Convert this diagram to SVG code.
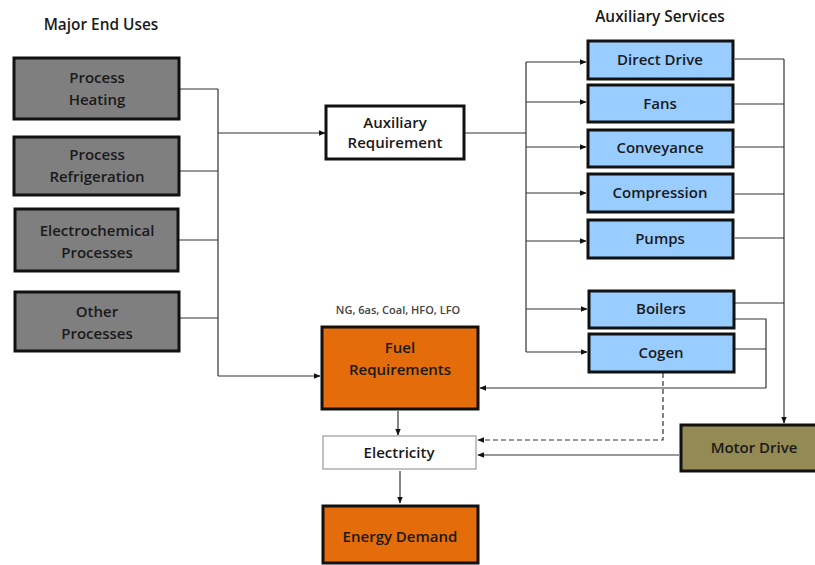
<svg xmlns="http://www.w3.org/2000/svg" width="815" height="565" viewBox="0 0 815 565">
  <style>
    .lbl { font-family: "Open Sans", "Liberation Sans", sans-serif; font-weight: 600; font-size: 15px; fill: #1a1a1a; text-anchor: middle; }
    .title { font-family: "Open Sans", "Liberation Sans", sans-serif; font-weight: 600; font-size: 15.4px; fill: #1a1a1a; text-anchor: middle; }
    .small { font-family: "Open Sans", "Liberation Sans", sans-serif; font-weight: 600; font-size: 11px; fill: #444; text-anchor: middle; }
    .gray { fill: #7f7f7f; stroke: #111; stroke-width: 3; }
    .blue { fill: #99ccff; stroke: #111; stroke-width: 3; }
    .orange { fill: #e46c0a; stroke: #111; stroke-width: 3; }
    .olive { fill: #948a54; stroke: #111; stroke-width: 3; }
    .white { fill: #fff; stroke: #111; stroke-width: 3; }
    .thin { fill: #fff; stroke: #999; stroke-width: 1.2; }
    .wire { fill: none; stroke: #333; stroke-width: 1.2; }
    .arrow { fill: none; stroke: #333; stroke-width: 1.2; marker-end: url(#ah); }
    .dash { stroke-dasharray: 5 3; }
  </style>
  <defs>
    <marker id="ah" viewBox="0 0 10 10" refX="9" refY="5" markerWidth="7" markerHeight="7" markerUnits="userSpaceOnUse" orient="auto">
      <path d="M0,1 L10,5 L0,9 z" fill="#111"/>
    </marker>
  </defs>

  <rect width="815" height="565" fill="#fff"/>

  <text class="title" x="101" y="30">Major End Uses</text>
  <text class="title" x="660" y="22">Auxiliary Services</text>
  <text class="small" x="398" y="314">NG, 6as, Coal, HFO, LFO</text>

  <g id="connectors">
    <!-- end uses to the collecting bus -->
    <path class="wire" d="M180,89 H218 M180,171 H218 M179,240 H218 M180,318 H218 M218,89 V376"/>
    <path class="arrow" d="M218,133 H325"/>
    <path class="arrow" d="M218,376 H320"/>
    <!-- auxiliary requirement to services bus -->
    <path class="wire" d="M465,133 H526 M526,62 V352"/>
    <path class="arrow" d="M526,62 H586"/>
    <path class="arrow" d="M526,102 H586"/>
    <path class="arrow" d="M526,147 H586"/>
    <path class="arrow" d="M526,193 H586"/>
    <path class="arrow" d="M526,241 H586"/>
    <path class="arrow" d="M526,309 H587"/>
    <path class="arrow" d="M526,352 H587"/>
    <!-- services to motor drive -->
    <path class="wire" d="M735,59 H784 M735,104 H784 M735,147 H784 M735,194 H784 M735,238 H784 M735,303 H784"/>
    <path class="arrow" d="M784,59 V423"/>
    <!-- boilers and cogen back to fuel -->
    <path class="wire" d="M735,319 H766 V388 M735,349 H766"/>
    <path class="arrow" d="M766,388 H480"/>
    <!-- cogen electricity (dashed) -->
    <path class="arrow dash" d="M663,373 V440 H478"/>
    <!-- motor drive to electricity -->
    <path class="arrow" d="M679,455 H478"/>
    <!-- fuel to electricity to demand -->
    <path class="arrow" d="M398,411 V435"/>
    <path class="arrow" d="M400,471 V503"/>
  </g>

  <g id="process-heating">
    <rect class="gray" x="14" y="58" width="165" height="61"/>
    <text class="lbl" x="97" y="83">Process</text>
    <text class="lbl" x="97" y="105">Heating</text>
  </g>
  <g id="process-refrigeration">
    <rect class="gray" x="14" y="137" width="165" height="58"/>
    <text class="lbl" x="97" y="160">Process</text>
    <text class="lbl" x="97" y="182">Refrigeration</text>
  </g>
  <g id="electrochemical-processes">
    <rect class="gray" x="15" y="209" width="163" height="62"/>
    <text class="lbl" x="97" y="236">Electrochemical</text>
    <text class="lbl" x="97" y="258">Processes</text>
  </g>
  <g id="other-processes">
    <rect class="gray" x="15" y="292" width="164" height="59"/>
    <text class="lbl" x="97" y="317">Other</text>
    <text class="lbl" x="97" y="339">Processes</text>
  </g>

  <g id="auxiliary-requirement">
    <rect class="white" x="326" y="106" width="138" height="53"/>
    <text class="lbl" x="395" y="128">Auxiliary</text>
    <text class="lbl" x="395" y="148">Requirement</text>
  </g>

  <g id="direct-drive">
    <rect class="blue" x="588" y="41" width="145" height="38"/>
    <text class="lbl" x="660" y="65">Direct Drive</text>
  </g>
  <g id="fans">
    <rect class="blue" x="588" y="85" width="145" height="37"/>
    <text class="lbl" x="660" y="109">Fans</text>
  </g>
  <g id="conveyance">
    <rect class="blue" x="588" y="130" width="145" height="37"/>
    <text class="lbl" x="660" y="153">Conveyance</text>
  </g>
  <g id="compression">
    <rect class="blue" x="588" y="174" width="145" height="38"/>
    <text class="lbl" x="660" y="198">Compression</text>
  </g>
  <g id="pumps">
    <rect class="blue" x="588" y="220" width="145" height="38"/>
    <text class="lbl" x="660" y="244">Pumps</text>
  </g>
  <g id="boilers">
    <rect class="blue" x="589" y="291" width="145" height="37"/>
    <text class="lbl" x="661" y="314">Boilers</text>
  </g>
  <g id="cogen">
    <rect class="blue" x="589" y="334" width="145" height="38"/>
    <text class="lbl" x="661" y="358">Cogen</text>
  </g>

  <g id="motor-drive">
    <rect class="olive" x="681" y="425" width="140" height="46"/>
    <text class="lbl" x="754" y="453">Motor Drive</text>
  </g>

  <g id="fuel-requirements">
    <rect class="orange" x="322" y="327" width="156" height="82"/>
    <text class="lbl" x="400" y="353">Fuel</text>
    <text class="lbl" x="400" y="375">Requirements</text>
  </g>

  <g id="electricity">
    <rect class="thin" x="323" y="436" width="153" height="33"/>
    <text class="lbl" x="399" y="458">Electricity</text>
  </g>

  <g id="energy-demand">
    <rect class="orange" x="323" y="506" width="155" height="57"/>
    <text class="lbl" x="400" y="542">Energy Demand</text>
  </g>
</svg>
